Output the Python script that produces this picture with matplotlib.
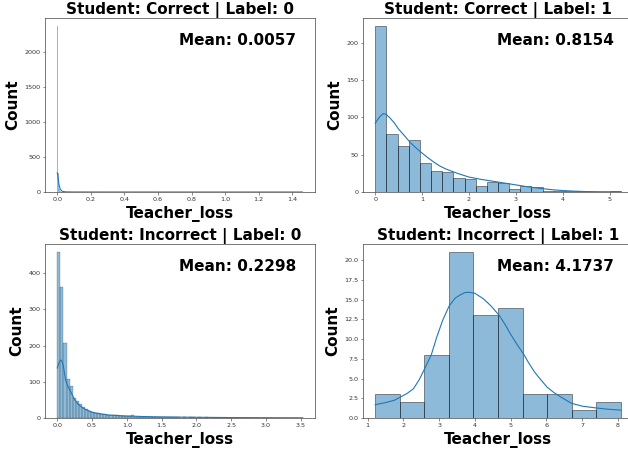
import matplotlib
matplotlib.use("Agg")
import matplotlib.pyplot as plt
import numpy as np

# ---------------- data ----------------
titles = ["Student: Correct | Label: 0", "Student: Correct | Label: 1",
          "Student: Incorrect | Label: 0", "Student: Incorrect | Label: 1"]
means = ["Mean: 0.0057", "Mean: 0.8154", "Mean: 0.2298", "Mean: 4.1737"]

# Panel 1: Correct | Label 0  (very narrow bins)
p1_bin_start = 0.0
p1_bin_width = 0.0025
p1_counts = [2360, 588, 265, 130, 70, 40, 25, 18, 12, 9, 7, 5, 4, 3, 3, 2, 2, 2, 1, 1]
p1_tail_x = [0.06, 0.08, 0.11, 0.15, 0.2, 0.27, 0.35, 0.48, 0.62, 0.8, 1.05, 1.2, 1.4575]
p1_tail_counts = [1, 1, 1, 1, 1, 1, 1, 1, 1, 1, 1, 1, 1]
p1_kde_x = [0.0, 0.003, 0.006, 0.01, 0.015, 0.02, 0.03, 0.05, 0.1, 0.3, 0.6, 1.0, 1.46]
p1_kde_y = [272, 240, 180, 110, 60, 33, 10, 2, 0.5, 0.2, 0.1, 0.05, 0.02]
p1_xticks = [0.0, 0.2, 0.4, 0.6, 0.8, 1.0, 1.2, 1.4]
p1_yticks = [0, 500, 1000, 1500, 2000]

# Panel 2: Correct | Label 1
p2_bin_start = 0.0
p2_bin_width = 0.238
p2_counts = [222, 78, 62, 70, 39, 28, 27, 19, 18, 8, 14, 12, 4, 8, 7, 2, 1, 1, 1, 0, 0, 1]
p2_kde_x = [0.0, 0.05, 0.1, 0.17, 0.23, 0.3, 0.4, 0.5, 0.6, 0.75, 0.87, 1.0, 1.12,
            1.25, 1.37, 1.5, 1.75, 2.0, 2.25, 2.5, 2.75, 3.0, 3.25, 3.5, 3.75, 4.0,
            4.25, 4.5, 4.75, 5.0, 5.236]
p2_kde_y = [92, 97, 101, 105, 104, 100, 93, 84, 77, 66, 59, 52, 46,
            40, 35, 31, 25, 20, 17, 14.5, 12, 9.5, 7, 5, 3.2, 1.9,
            1.1, 0.6, 0.4, 0.3, 0.2]
p2_xticks = [0, 1, 2, 3, 4, 5]
p2_yticks = [0, 50, 100, 150, 200]

# Panel 3: Incorrect | Label 0
p3_bin_start = 0.0
p3_bin_width = 0.04413
p3_counts = [457, 362, 208, 107, 87, 55, 48, 38, 30, 26, 20, 17, 15, 13, 11, 10,
             9, 8, 7, 7, 6, 6, 5, 5, 9, 4, 4, 4, 3, 3, 3, 3, 4, 3, 2, 3, 2, 2, 2, 2,
             1, 2, 1, 2, 2, 1, 2, 1, 2, 1, 1, 1, 1, 0, 1, 1, 0, 1, 1, 0, 1, 0, 1, 0,
             0, 1, 0, 1, 0, 0, 1, 0, 0, 0, 1, 0, 0, 0, 0, 1]
p3_kde_x = [0.0, 0.015, 0.03, 0.053, 0.07, 0.09, 0.105, 0.12, 0.14, 0.16, 0.2,
            0.23, 0.255, 0.3, 0.35, 0.4, 0.45, 0.5, 0.6, 0.75, 1.0, 1.25, 1.5,
            2.0, 2.5, 3.0, 3.53]
p3_kde_y = [138, 147, 155, 160, 155, 140, 122, 104, 93, 85, 70,
            58, 49, 38, 30, 24, 20, 16, 12, 8, 5.5, 4, 3,
            2, 1.2, 0.8, 0.5]
p3_xticks = [0.0, 0.5, 1.0, 1.5, 2.0, 2.5, 3.0, 3.5]
p3_yticks = [0, 100, 200, 300, 400]

# Panel 4: Incorrect | Label 1
p4_bin_start = 1.215
p4_bin_width = 0.686
p4_counts = [3, 2, 8, 21, 13, 14, 3, 3, 1, 2]
p4_kde_x = [1.215, 1.5, 1.75, 1.905, 2.1, 2.28, 2.45, 2.59, 2.78, 2.93, 3.1,
            3.28, 3.45, 3.59, 3.72, 3.85, 4.0, 4.24, 4.45, 4.68, 4.85, 5.0,
            5.18, 5.36, 5.5, 5.67, 5.85, 6.02, 6.2, 6.37, 6.55, 6.70, 7.0,
            7.39, 7.7, 8.075]
p4_kde_y = [1.69, 1.95, 2.25, 2.62, 3.1, 3.7, 4.9, 6.2, 8.0, 10.2, 12.4,
            14.2, 15.2, 15.6, 15.9, 15.93, 15.8, 15.1, 14.2, 13.0, 11.8, 10.6,
            9.3, 8.1, 7.0, 5.8, 4.8, 3.9, 3.25, 2.75, 2.25, 1.86, 1.5,
            1.27, 1.12, 1.0]
p4_xticks = [1, 2, 3, 4, 5, 6, 7, 8]
p4_yticks = [0.0, 2.5, 5.0, 7.5, 10.0, 12.5, 15.0, 17.5, 20.0]

# ---------------- figure ----------------
W, H = 628, 451
fig = plt.figure(figsize=(W / 100, H / 100), dpi=100)

def rect(l, t, w=270, h=174):
    return [l / W, (H - t - h) / H, w / W, h / H]

axes = [fig.add_axes(rect(45, 18)), fig.add_axes(rect(363, 18)),
        fig.add_axes(rect(45, 244)), fig.add_axes(rect(363, 244))]

blue = "#1f77b4"
bold_fs = 11
tick_fs = 4.6

panels = [
    (p1_bin_start, p1_bin_width, p1_counts, p1_kde_x, p1_kde_y, p1_xticks, p1_yticks, "%.1f", "%d", 0.0),
    (p2_bin_start, p2_bin_width, p2_counts, p2_kde_x, p2_kde_y, p2_xticks, p2_yticks, "%d", "%d", 0.6),
    (p3_bin_start, p3_bin_width, p3_counts, p3_kde_x, p3_kde_y, p3_xticks, p3_yticks, "%.1f", "%d", 0.25),
    (p4_bin_start, p4_bin_width, p4_counts, p4_kde_x, p4_kde_y, p4_xticks, p4_yticks, "%d", "%.1f", 0.6),
]

for i, (ax, (bs, bw, counts, kx, ky, xt, yt, xfmt, yfmt, lw)) in enumerate(zip(axes, panels)):
    lefts = bs + bw * np.arange(len(counts))
    ax.bar(lefts, counts, width=bw, align="edge", facecolor=blue,
           edgecolor="black" if lw > 0 else "none", linewidth=lw, alpha=0.5)
    if i == 0:
        ax.bar(p1_tail_x, p1_tail_counts, width=bw, align="edge", facecolor=blue,
               edgecolor="none", linewidth=0, alpha=0.5)
    ax.plot(kx, ky, color=blue, linewidth=0.8)
    ax.set_xticks(xt)
    ax.set_xticklabels([xfmt % v for v in xt])
    ax.set_yticks(yt)
    ax.set_yticklabels([yfmt % v for v in yt])
    ax.tick_params(labelsize=tick_fs, length=1.8, width=0.4, pad=1.5, colors="#333333")
    for s in ax.spines.values():
        s.set_linewidth(0.5)
        s.set_color("#444444")
    ax.set_title(titles[i], fontsize=bold_fs, fontweight="bold", pad=2.5)
    ax.set_xlabel("Teacher_loss", fontsize=bold_fs, fontweight="bold", labelpad=3)
    ax.set_ylabel("Count", fontsize=bold_fs, fontweight="bold", labelpad=3)
    ax.text(0.93, 0.915, means[i], transform=ax.transAxes, ha="right", va="top",
            fontsize=bold_fs, fontweight="bold")

axes[0].set_ylim(0, 2478)
axes[1].set_ylim(0, 233)
axes[2].set_ylim(0, 480)
axes[3].set_ylim(0, 22.05)
axes[0].set_xlim(-0.073, 1.535)
axes[1].set_xlim(-0.262, 5.498)
axes[2].set_xlim(-0.177, 3.707)
axes[3].set_xlim(0.872, 8.418)

fig.savefig("out.png", dpi=100)
